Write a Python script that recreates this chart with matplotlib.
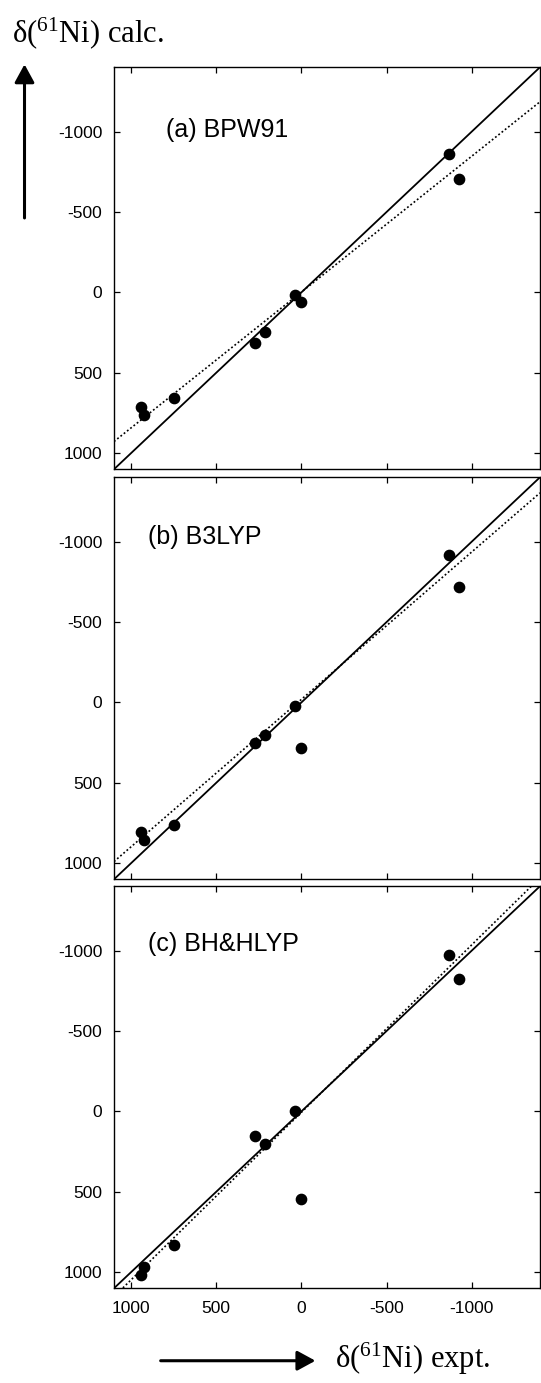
import matplotlib
matplotlib.use("Agg")
import matplotlib.pyplot as plt
from matplotlib.patches import FancyArrowPatch
from matplotlib.ticker import FixedLocator, FuncFormatter

plt.rcParams['font.family'] = ['Liberation Sans', 'DejaVu Sans']
plt.rcParams['axes.unicode_minus'] = False
plt.rcParams['mathtext.fontset'] = 'custom'
plt.rcParams['mathtext.rm'] = 'Liberation Serif'
plt.rcParams['mathtext.it'] = 'Liberation Serif:italic'

# ---- data ----
expt = [941, 925, 749, 271, 211, 40, 0, -864, -927]
calc_bpw91 = [710, 761, 660, 315, 247, 17, 62, -863, -705]
calc_b3lyp = [803, 855, 760, 251, 203, 25, 284, -919, -718]
calc_bhhlyp = [1018, 966, 833, 152, 204, 0, 546, -974, -825]
panel_labels = ["(a) BPW91", "(b) B3LYP", "(c) BH&HLYP"]
fit_slopes = [0.845, 0.917, 1.042]
fit_intercepts = [-2, -19, 6]
ticks = [1000, 500, 0, -500, -1000]
lim_lo, lim_hi = 1100, -1400

calcs = [calc_bpw91, calc_b3lyp, calc_bhhlyp]

fig = plt.figure(figsize=(5.41, 13.83), dpi=100)

left, width = 0.2107, 0.7874
bottoms = [0.6607, 0.3642, 0.0685]
height = 0.2907
label_pos = [(0.121, 0.844), (0.081, 0.851), (0.081, 0.857)]

for i in range(3):
    ax = fig.add_axes([left, bottoms[i], width, height])
    ax.set_xlim(lim_lo, lim_hi)
    ax.set_ylim(lim_lo, lim_hi)
    line_x = [lim_lo, lim_hi]
    ax.plot(line_x, line_x, color='black', lw=1.3, solid_capstyle='butt')
    fy = [fit_slopes[i] * v + fit_intercepts[i] for v in line_x]
    ax.plot(line_x, fy, color='black', lw=1.2, linestyle=(0, (1.1, 1.4)))
    ax.plot(expt, calcs[i], 'o', color='black', markersize=7.4, linestyle='none')
    ax.xaxis.set_major_locator(FixedLocator(ticks))
    ax.yaxis.set_major_locator(FixedLocator(ticks))
    fmt = FuncFormatter(lambda v, p: "%d" % v)
    ax.xaxis.set_major_formatter(fmt)
    ax.yaxis.set_major_formatter(fmt)
    ax.tick_params(direction='in', length=4.5, width=0.9, top=True, right=True,
                   labelsize=12.5, pad=8.5)
    ax.tick_params(axis='x', pad=9.5)
    if i < 2:
        ax.tick_params(axis='x', labelbottom=False)
    for s in ax.spines.values():
        s.set_linewidth(1.0)
    ax.text(label_pos[i][0], label_pos[i][1], panel_labels[i], transform=ax.transAxes,
            fontsize=18, ha='left', va='center')

serif = ['Liberation Serif', 'DejaVu Serif']
fig.text(0.0216, 0.9698, r'δ($^{\mathrm{61}}$Ni) calc.', family=serif, fontsize=22,
         ha='left', va='baseline')
fig.text(0.619, 0.0108, r'δ($^{\mathrm{61}}$Ni) expt.', family=serif, fontsize=22,
         ha='left', va='baseline')

up = FancyArrowPatch((0.0453, 0.8424), (0.0453, 0.9535), transform=fig.transFigure,
                     arrowstyle='-|>,head_length=11,head_width=6', color='black',
                     lw=2.2, shrinkA=0, shrinkB=0)
fig.add_artist(up)
right = FancyArrowPatch((0.297, 0.0161), (0.583, 0.0161), transform=fig.transFigure,
                        arrowstyle='-|>,head_length=11,head_width=6', color='black',
                        lw=2.2, shrinkA=0, shrinkB=0)
fig.add_artist(right)

fig.savefig("out.png", dpi=100)
